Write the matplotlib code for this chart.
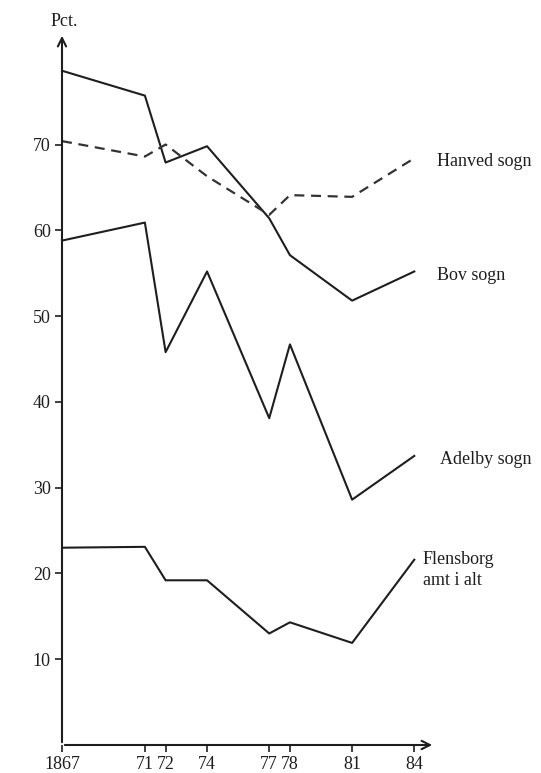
import matplotlib.pyplot as plt

# years on the x axis and their tick labels
years = [1867, 1871, 1872, 1874, 1877, 1878, 1881, 1884]
year_labels = ['1867', '71', '72', '74', '77', '78', '81', '84']

# percentages
bov = [78.6, 75.7, 67.9, 69.8, 61.4, 57.1, 51.8, 55.2]
hanved = [70.4, 68.6, 70.0, 66.3, 61.8, 64.1, 63.9, 68.4]
adelby = [58.8, 60.9, 45.8, 55.2, 38.1, 46.7, 28.6, 33.7]
flensborg = [23.0, 23.1, 19.2, 19.2, 13.0, 14.3, 11.9, 21.6]

y_ticks = [10, 20, 30, 40, 50, 60, 70]

plt.rcParams['font.family'] = ['Liberation Serif', 'DejaVu Serif']

W, H = 541, 773
fig = plt.figure(figsize=(W / 100, H / 100), dpi=100)
ax = fig.add_axes([62 / W, 28 / H, 373 / W, 712 / H])

ink = '#1e1e1e'
ax.plot(years, bov, color=ink, lw=1.5, clip_on=False)
ax.plot(years, adelby, color=ink, lw=1.5, clip_on=False)
ax.plot(years, flensborg, color=ink, lw=1.5, clip_on=False)
ax.plot(years, hanved, color='#333333', lw=1.6, dashes=(4.5, 3), clip_on=False)

ax.set_xlim(1867, 1885.0)
ax.set_ylim(0, 83)

for s in ['top', 'right', 'left', 'bottom']:
    ax.spines[s].set_visible(False)

# axes drawn as arrows
ax.annotate('', xy=(1, 0), xycoords='axes fraction', xytext=(0, 0),
            arrowprops=dict(arrowstyle='->', color=ink, lw=1.5, mutation_scale=15))
ax.annotate('', xy=(0, 1), xycoords='axes fraction', xytext=(0, 0),
            arrowprops=dict(arrowstyle='->', color=ink, lw=1.5, mutation_scale=15))

ax.set_xticks(years)
ax.set_xticklabels(year_labels)
ax.set_yticks(y_ticks)
ax.tick_params(axis='both', direction='out', length=5, width=1.2, color=ink,
               labelsize=13, labelcolor=ink, pad=3)

fs = 13
fig.text(64 / W, 1 - 21 / H, 'Pct.', ha='center', va='center', fontsize=fs, color=ink)
fig.text(437 / W, 1 - 162 / H, 'Hanved sogn', ha='left', va='center', fontsize=fs, color=ink)
fig.text(437 / W, 1 - 275 / H, 'Bov sogn', ha='left', va='center', fontsize=fs, color=ink)
fig.text(440 / W, 1 - 459 / H, 'Adelby sogn', ha='left', va='center', fontsize=fs, color=ink)
fig.text(423 / W, 1 - 570 / H, 'Flensborg\namt i alt', ha='left', va='center',
         fontsize=fs, color=ink, linespacing=1.35)

plt.savefig('out.png', dpi=100)
plt.close()
